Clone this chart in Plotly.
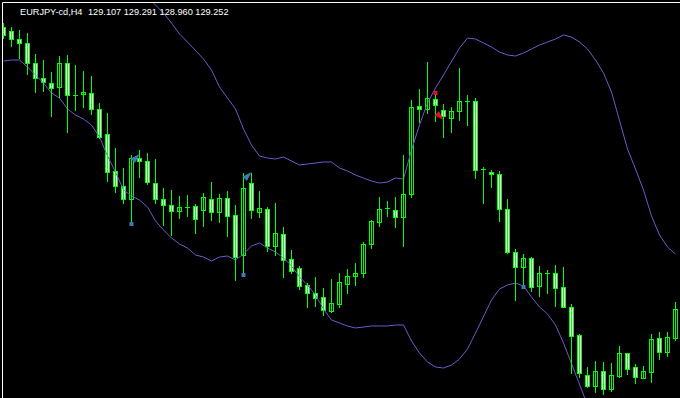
import plotly.graph_objects as go

# ---- data (EURJPY-cd, H4) ----
bar_index = list(range(85))

open_ = [130.665, 130.645, 130.605, 130.585, 130.485, 130.410, 130.385, 130.365, 130.485, 130.325,
         130.330, 130.335, 130.255, 130.130, 129.945, 129.870, 129.805, 130.010, 129.995, 129.885,
         129.805, 129.775, 129.745, 129.765, 129.770, 129.750, 129.805, 129.740, 129.810, 129.725,
         129.525, 129.885, 129.740, 129.755, 129.570, 129.630, 129.505, 129.460, 129.375, 129.335,
         129.315, 129.245, 129.280, 129.380, 129.420, 129.435, 129.580, 129.690, 129.760, 129.750,
         129.715, 129.830, 130.270, 130.255, 130.305, 130.250, 130.210, 130.245, 130.295, 130.295,
         129.955, 129.940, 129.930, 129.755, 129.540, 129.465, 129.510, 129.370, 129.435, 129.435,
         129.365, 129.265, 129.125, 128.925, 128.870, 128.945, 128.855, 128.920, 129.035, 128.965,
         128.910, 128.940, 129.110, 129.040, 129.110]
high = [130.685, 130.665, 130.650, 130.635, 130.530, 130.500, 130.440, 130.520, 130.525, 130.475,
        130.445, 130.420, 130.285, 130.235, 130.060, 129.960, 130.025, 130.050, 130.035, 130.005,
        129.860, 129.850, 129.820, 129.825, 129.780, 129.835, 129.890, 129.830, 129.845, 129.775,
        129.935, 129.935, 129.845, 129.765, 129.785, 129.665, 129.550, 129.470, 129.385, 129.415,
        129.360, 129.405, 129.435, 129.455, 129.485, 129.590, 129.700, 129.815, 129.795, 129.815,
        130.025, 130.300, 130.355, 130.490, 130.340, 130.280, 130.265, 130.460, 130.325, 130.310,
        129.965, 129.950, 129.945, 129.805, 129.555, 129.530, 129.515, 129.470, 129.450, 129.475,
        129.465, 129.280, 129.130, 128.965, 128.995, 128.990, 128.985, 129.070, 129.035, 128.980,
        128.970, 129.130, 129.140, 129.140, 129.290]
low = [130.610, 130.570, 130.510, 130.430, 130.340, 130.345, 130.220, 130.315, 130.140, 130.250,
       130.265, 130.230, 130.110, 129.895, 129.840, 129.785, 129.675, 129.915, 129.880, 129.785,
       129.675, 129.625, 129.710, 129.720, 129.635, 129.670, 129.700, 129.690, 129.620, 129.400,
       129.420, 129.710, 129.715, 129.545, 129.525, 129.415, 129.435, 129.355, 129.265, 129.270,
       129.225, 129.240, 129.265, 129.335, 129.375, 129.415, 129.560, 129.670, 129.720, 129.665,
       129.570, 129.815, 130.190, 130.235, 130.195, 130.115, 130.140, 130.200, 130.175, 129.910,
       129.785, 129.865, 129.695, 129.535, 129.300, 129.365, 129.345, 129.320, 129.335, 129.270,
       129.265, 128.935, 128.915, 128.865, 128.840, 128.830, 128.845, 128.915, 128.930, 128.885,
       128.910, 128.890, 129.005, 129.020, 129.100]
close = [130.625, 130.605, 130.585, 130.485, 130.410, 130.390, 130.360, 130.485, 130.325, 130.325,
         130.340, 130.255, 130.115, 129.940, 129.870, 129.805, 130.010, 129.995, 129.890, 129.805,
         129.775, 129.745, 129.765, 129.765, 129.705, 129.815, 129.740, 129.810, 129.720, 129.515,
         129.860, 129.750, 129.760, 129.570, 129.635, 129.500, 129.445, 129.370, 129.335, 129.310,
         129.250, 129.285, 129.390, 129.420, 129.435, 129.580, 129.695, 129.755, 129.760, 129.715,
         129.830, 130.265, 130.255, 130.310, 130.275, 130.220, 130.245, 130.295, 130.295, 129.950,
         129.955, 129.930, 129.755, 129.540, 129.465, 129.510, 129.365, 129.435, 129.435, 129.360,
         129.265, 129.120, 128.935, 128.870, 128.945, 128.855, 128.925, 129.035, 128.955, 128.915,
         128.945, 129.105, 129.040, 129.115, 129.255]

# upper band (visible from bar 18 on)
upper_index = list(range(18, 85))
upper_band = [130.815, 130.775, 130.735, 130.685, 130.630, 130.590, 130.550, 130.505, 130.450, 130.365,
              130.310, 130.255, 130.155, 130.075, 130.020, 130.010, 130.005, 130.015, 129.995, 129.975,
              129.980, 129.985, 129.990, 129.990, 129.960, 129.945, 129.925, 129.910, 129.895, 129.885,
              129.890, 129.910, 129.905, 130.050, 130.175, 130.285, 130.360, 130.425, 130.495, 130.560,
              130.610, 130.605, 130.585, 130.565, 130.540, 130.525, 130.520, 130.535, 130.555, 130.575,
              130.590, 130.605, 130.625, 130.615, 130.590, 130.555, 130.500, 130.435, 130.340, 130.200,
              130.055, 129.955, 129.850, 129.720, 129.625, 129.565, 129.530]

# lower band (visible up to bar 73)
lower_index = list(range(0, 74))
lower_band = [130.495, 130.500, 130.500, 130.465, 130.425, 130.385, 130.335, 130.310, 130.255, 130.225,
              130.205, 130.175, 130.115, 130.020, 129.940, 129.850, 129.820, 129.800, 129.765, 129.695,
              129.650, 129.610, 129.580, 129.560, 129.525, 129.515, 129.495, 129.515, 129.520, 129.500,
              129.530, 129.570, 129.585, 129.560, 129.540, 129.510, 129.470, 129.415, 129.375, 129.325,
              129.255, 129.200, 129.185, 129.170, 129.160, 129.165, 129.170, 129.170, 129.170, 129.175,
              129.175, 129.095, 129.035, 128.990, 128.965, 128.960, 128.975, 129.005, 129.055, 129.135,
              129.215, 129.300, 129.355, 129.375, 129.385, 129.370, 129.315, 129.265, 129.230, 129.175,
              129.085, 128.985, 128.880, 128.775]

# signal markers
buy_arrow_index = [17, 31]
buy_arrow_price = [130.030, 129.940]
buy_dot_index = [16, 30, 65]
buy_dot_price = [129.680, 129.425, 129.365]
sell_dot_index = [54]
sell_dot_price = [130.335]
sell_arrow_index = [55]
sell_arrow_price = [130.200]

title_text = "EURJPY-cd,H4"
ohlc_text = "129.107 129.291 128.960 129.252"

GREEN = "#00FF00"
BAND = "#6A5ACD"
BLUE = "#3F78B8"
RED = "#E0102A"

W, H, L, T = 680, 398, 3, 3
pw, ph = W - L, H - T
Y_TOP, Y_BOT = 130.785, 128.81
PX = (Y_TOP - Y_BOT) / ph          # price per pixel
SLOT = 8.0                          # pixels per bar
X0 = -0.0625
X1 = X0 + pw / SLOT
OUTER_W = 5 / SLOT                  # body outline width (bar units)
INNER_W = 3 / SLOT                  # body fill width (bar units)

# ---- candle pieces built from the data ----
wick_x, wick_y = [], []
for i, h, l in zip(bar_index, high, low):
    wick_x += [i, i, None]
    wick_y += [h, l - PX, None]

outer_base, outer_len = [], []
inner_base, inner_len, inner_fill = [], [], []
for o, c in zip(open_, close):
    top, bot = max(o, c), min(o, c)
    outer_base.append(bot - PX)
    outer_len.append(top - bot + PX)
    inner_base.append(bot)
    inner_len.append(max(top - bot - PX, 0))
    inner_fill.append("#000000" if c > o else "#FFFFFF")

fig = go.Figure()

fig.add_trace(go.Scatter(x=upper_index, y=upper_band, mode="lines",
                         line=dict(color=BAND, width=1), hoverinfo="skip"))
fig.add_trace(go.Scatter(x=lower_index, y=lower_band, mode="lines",
                         line=dict(color=BAND, width=1), hoverinfo="skip"))

fig.add_trace(go.Scatter(x=wick_x, y=wick_y, mode="lines",
                         line=dict(color=GREEN, width=1), hoverinfo="skip"))
fig.add_trace(go.Bar(x=bar_index, y=outer_len, base=outer_base, width=OUTER_W,
                     marker=dict(color=GREEN, line=dict(width=0))))
fig.add_trace(go.Bar(x=bar_index, y=inner_len, base=inner_base, width=INNER_W,
                     marker=dict(color=inner_fill, line=dict(width=0))))

fig.add_trace(go.Scatter(x=buy_arrow_index, y=buy_arrow_price, mode="markers",
                         marker=dict(symbol="arrow", angle=45, size=10, color=BLUE,
                                     line=dict(width=0))))
fig.add_trace(go.Scatter(x=buy_dot_index, y=buy_dot_price, mode="markers",
                         marker=dict(symbol="square", size=4, color=BLUE,
                                     line=dict(width=0))))
fig.add_trace(go.Scatter(x=sell_dot_index, y=sell_dot_price, mode="markers",
                         marker=dict(symbol="square", size=4, color=RED,
                                     line=dict(width=0))))
fig.add_trace(go.Scatter(x=sell_arrow_index, y=sell_arrow_price, mode="markers",
                         marker=dict(symbol="arrow", angle=135, size=10, color=RED,
                                     line=dict(width=0))))

fig.add_annotation(text=title_text, xref="paper", yref="paper", x=(18 - L) / pw, y=1 - (5 - T) / ph,
                   xanchor="left", yanchor="top", showarrow=False,
                   font=dict(family="Liberation Sans", size=9.2, color="#FFFFFF"))
fig.add_annotation(text=ohlc_text, xref="paper", yref="paper", x=(86 - L) / pw, y=1 - (5 - T) / ph,
                   xanchor="left", yanchor="top", showarrow=False,
                   font=dict(family="Liberation Sans", size=9.2, color="#FFFFFF"))

# white chart frame (left and top edges)
fig.add_shape(type="line", xref="paper", yref="paper",
              x0=-0.5 / pw, x1=1, y0=1 + 0.5 / ph, y1=1 + 0.5 / ph,
              line=dict(color="#FFFFFF", width=1))
fig.add_shape(type="line", xref="paper", yref="paper",
              x0=-0.5 / pw, x1=-0.5 / pw, y0=-0.01, y1=1 + 0.5 / ph,
              line=dict(color="#FFFFFF", width=1))

fig.update_layout(
    width=W, height=H,
    margin=dict(l=L, r=0, t=T, b=0, pad=0),
    paper_bgcolor="#000000", plot_bgcolor="#000000",
    showlegend=False, barmode="overlay", bargap=0,
    xaxis=dict(range=[X0, X1], showgrid=False, zeroline=False, showticklabels=False,
               ticks="", showline=False, fixedrange=True),
    yaxis=dict(range=[Y_BOT, Y_TOP], showgrid=False, zeroline=False, showticklabels=False,
               ticks="", showline=False, fixedrange=True),
)

fig.write_html("out.html", config={"displayModeBar": False},
               post_script="document.documentElement.style.background='#000';"
                           "document.documentElement.style.overflow='hidden';"
                           "document.body.style.background='#000';"
                           "document.body.style.overflow='hidden';"
                           "document.body.style.margin='0';")
